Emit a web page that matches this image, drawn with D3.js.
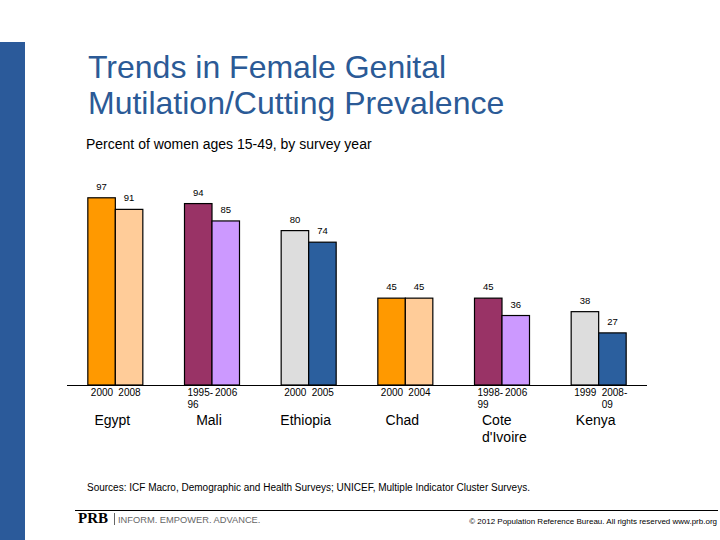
<!DOCTYPE html>
<html><head><meta charset="utf-8">
<script src="https://cdn.jsdelivr.net/npm/d3@7"></script>
<style>body{margin:0;background:#fff}svg{display:block;font-family:"Liberation Sans",Arial,sans-serif}</style>
</head><body>
<script>
const countries = ["Egypt","Mali","Ethiopia","Chad","Cote d'Ivoire","Kenya"];
const yearsFirst = ["2000","1995-96","2000","2000","1998-99","1999"];
const yearsSecond = ["2008","2006","2005","2004","2006","2008-09"];
const valuesFirst = [97,94,80,45,45,38];
const valuesSecond = [91,85,74,45,36,27];
const colorsFirst = ["#FF9900","#993366","#DDDDDD","#FF9900","#993366","#DDDDDD"];
const colorsSecond = ["#FFCC99","#CC99FF","#2B5F9E","#FFCC99","#CC99FF","#2B5F9E"];

const W=720,H=540;
const svg=d3.select("body").append("svg").attr("width",W).attr("height",H);
svg.append("rect").attr("x",0).attr("y",42).attr("width",25).attr("height",H-42).attr("fill","#2B5A9A");

svg.append("text").attr("x",88).attr("y",78).attr("font-size",32).attr("fill","#2B5A96").text("Trends in Female Genital");
svg.append("text").attr("x",88).attr("y",114).attr("font-size",32).attr("fill","#2B5A96").text("Mutilation/Cutting Prevalence");
svg.append("text").attr("x",86).attr("y",149).attr("font-size",14).attr("fill","#000").text("Percent of women ages 15-49, by survey year");

const x=d3.scaleBand().domain(countries).range([67,647]);
const sub=d3.scaleBand().domain([0,1]).range([0,55]);
const y=d3.scaleLinear().domain([0,100]).range([385,192]);

const data=countries.map((c,i)=>[
 {c,k:0,v:valuesFirst[i],yr:yearsFirst[i],col:colorsFirst[i]},
 {c,k:1,v:valuesSecond[i],yr:yearsSecond[i],col:colorsSecond[i]}]).flat();
const bx=d=>x(d.c)+(x.bandwidth()-55)/2+sub(d.k);

svg.selectAll("rect.bar").data(data).join("rect").attr("class","bar")
 .attr("x",bx).attr("y",d=>y(d.v)).attr("width",sub.bandwidth()).attr("height",d=>y(0)-y(d.v))
 .attr("fill",d=>d.col).attr("stroke","#000").attr("stroke-width",1.2);

svg.selectAll("text.val").data(data).join("text").attr("class","val")
 .attr("x",d=>bx(d)+sub.bandwidth()/2).attr("y",d=>y(d.v)-8)
 .attr("text-anchor","middle").attr("font-size",9.5).attr("fill","#000").text(d=>d.v);

svg.append("line").attr("x1",67).attr("x2",647).attr("y1",385.5).attr("y2",385.5).attr("stroke","#000").attr("stroke-width",1);

const yl=svg.selectAll("text.yr").data(data).join("text").attr("class","yr")
 .attr("y",396).attr("font-size",10).attr("fill","#000");
yl.each(function(d){
  const parts=d.yr.includes("-")?[d.yr.split("-")[0]+"-",d.yr.split("-")[1]]:[d.yr];
  const t=d3.select(this);
  parts.forEach((p,j)=>t.append("tspan").attr("x",bx(d)+3).attr("dy",j?12:0).text(p));
});

const cl=svg.selectAll("text.cty").data(countries).join("text").attr("class","cty")
 .attr("y",425).attr("font-size",14).attr("fill","#000");
cl.each(function(c){
  const t=d3.select(this);
  const parts=c.includes(" ")?c.split(" "):[c];
  if(parts.length>1){
    t.attr("text-anchor","start");
    parts.forEach((p,j)=>t.append("tspan").attr("x",x(c)+x.bandwidth()/2-20).attr("dy",j?17:0).text(p));
  } else {
    t.attr("text-anchor","middle").attr("x",x(c)+x.bandwidth()/2-3).text(c);
  }
});

svg.append("text").attr("x",87).attr("y",491).attr("font-size",10).attr("fill","#000")
 .text("Sources: ICF Macro, Demographic and Health Surveys; UNICEF, Multiple Indicator Cluster Surveys.");
svg.append("line").attr("x1",75).attr("x2",718).attr("y1",510.5).attr("y2",510.5).attr("stroke","#000").attr("stroke-width",1);
svg.append("text").attr("x",78).attr("y",523).attr("font-family","Liberation Serif,serif").attr("font-weight","bold").attr("font-size",15).attr("fill","#000").text("PRB");
svg.append("line").attr("x1",114.5).attr("x2",114.5).attr("y1",513).attr("y2",525).attr("stroke","#666");
svg.append("text").attr("x",118).attr("y",523).attr("font-size",9.3).attr("fill","#666").text("INFORM. EMPOWER. ADVANCE.");
svg.append("text").attr("x",717).attr("y",524).attr("text-anchor","end").attr("font-size",8).attr("fill","#000")
 .text("© 2012 Population Reference Bureau. All rights reserved www.prb.org");
</script>
</body></html>
